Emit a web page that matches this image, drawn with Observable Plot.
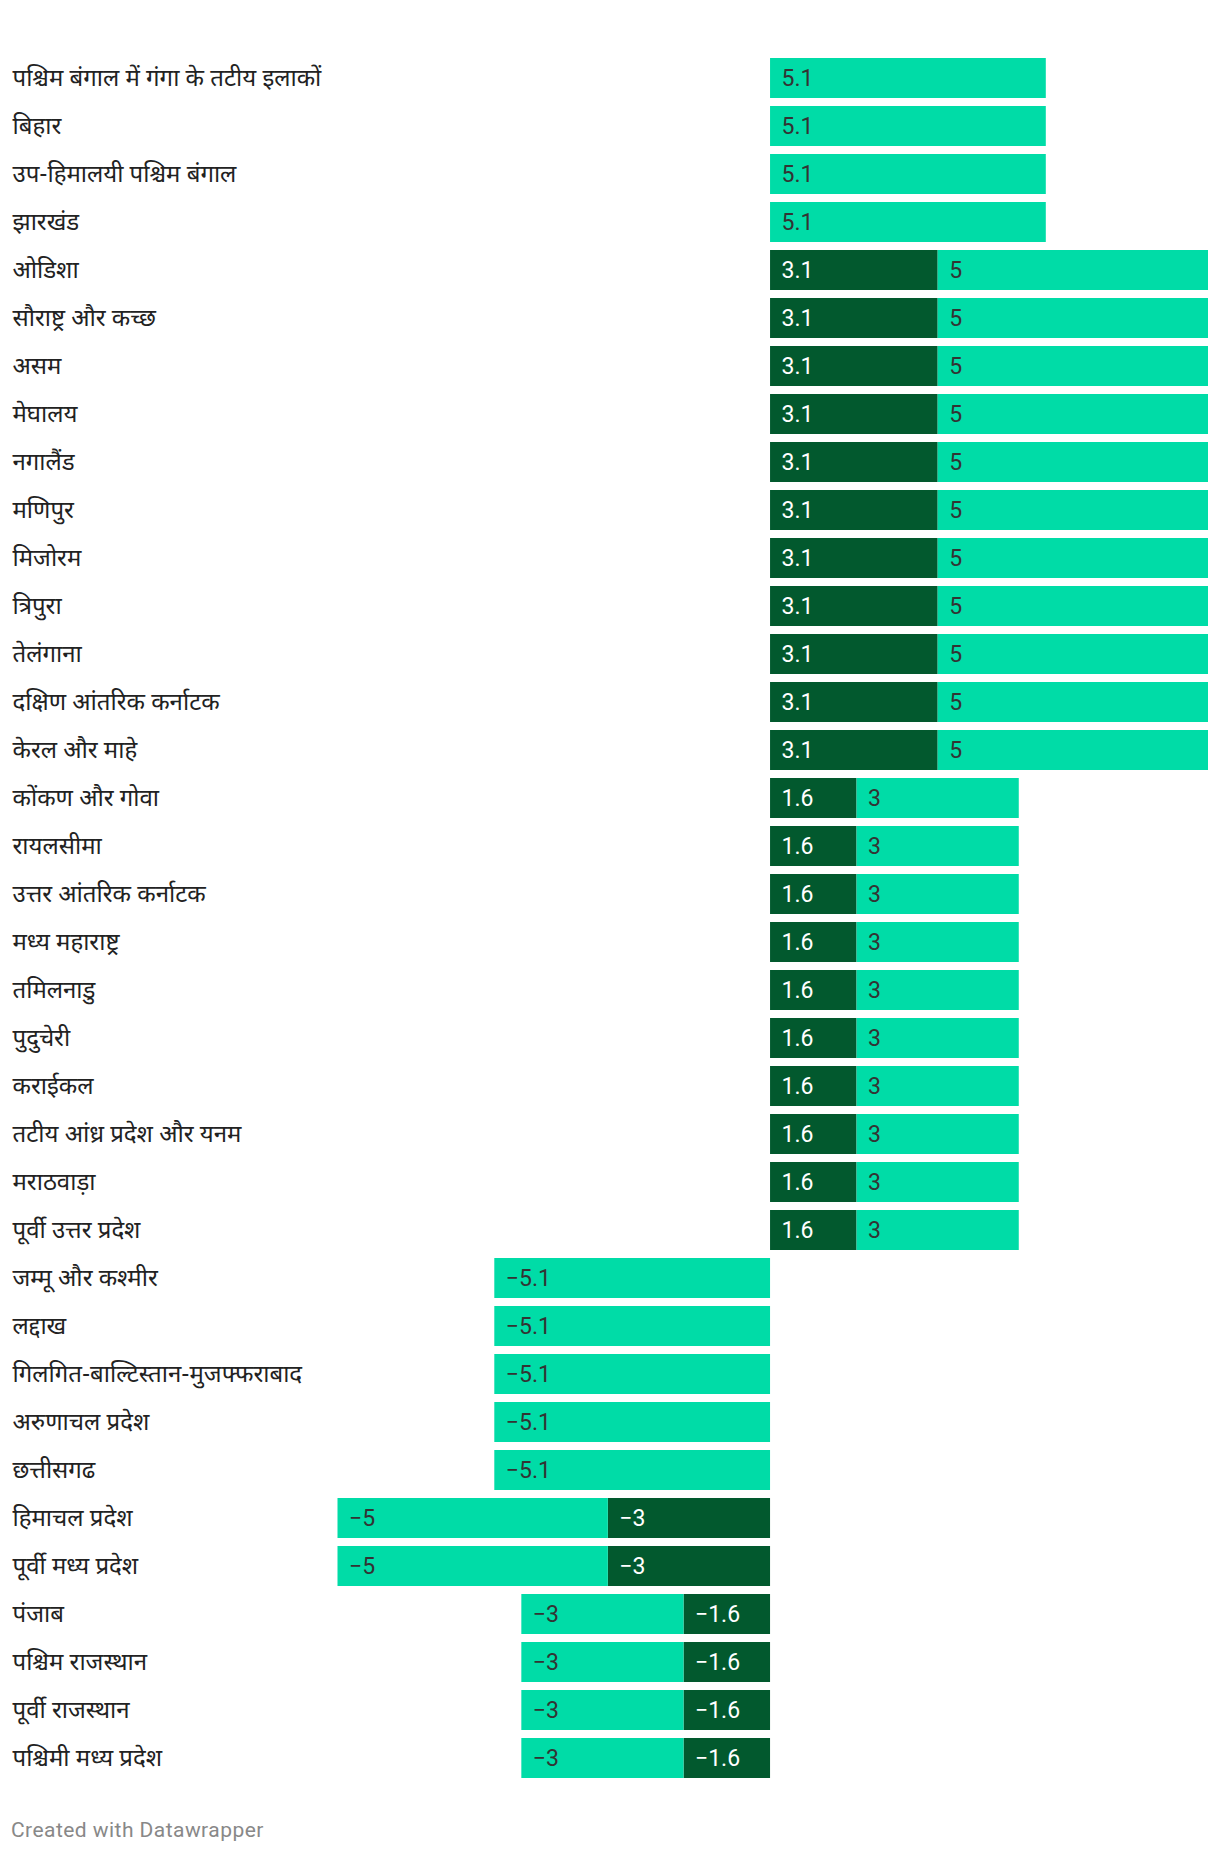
<!DOCTYPE html>
<html>
<head>
<meta charset="utf-8">
<script src="https://cdn.jsdelivr.net/npm/d3@7"></script>
<script src="https://cdn.jsdelivr.net/npm/@observablehq/plot@0.6"></script>
<style>
  body { margin: 0; background: #fff; font-family: Roboto, "Noto Sans", sans-serif; }
  #chart svg { display: block; }
  #footer { margin: 18px 0 0 11px; font-size: 21px; letter-spacing: 0.45px; line-height: 24px; color: #888; font-family: Roboto, sans-serif; }
</style>
</head>
<body>
<div id="chart"></div>
<div id="footer">Created with Datawrapper</div>
<script>
const regions = [
  "पश्चिम बंगाल में गंगा के तटीय इलाकों",
  "बिहार",
  "उप-हिमालयी पश्चिम बंगाल",
  "झारखंड",
  "ओडिशा",
  "सौराष्ट्र और कच्छ",
  "असम",
  "मेघालय",
  "नगालैंड",
  "मणिपुर",
  "मिजोरम",
  "त्रिपुरा",
  "तेलंगाना",
  "दक्षिण आंतरिक कर्नाटक",
  "केरल और माहे",
  "कोंकण और गोवा",
  "रायलसीमा",
  "उत्तर आंतरिक कर्नाटक",
  "मध्य महाराष्ट्र",
  "तमिलनाडु",
  "पुदुचेरी",
  "कराईकल",
  "तटीय आंध्र प्रदेश और यनम",
  "मराठवाड़ा",
  "पूर्वी उत्तर प्रदेश",
  "जम्मू और कश्मीर",
  "लद्दाख",
  "गिलगित-बाल्टिस्तान-मुजफ्फराबाद",
  "अरुणाचल प्रदेश",
  "छत्तीसगढ",
  "हिमाचल प्रदेश",
  "पूर्वी मध्य प्रदेश",
  "पंजाब",
  "पश्चिम राजस्थान",
  "पूर्वी राजस्थान",
  "पश्चिमी मध्य प्रदेश"
];

// inner (dark) segment, next to zero; null = none
const darkValues = [
  null, null, null, null,
  3.1, 3.1, 3.1, 3.1, 3.1, 3.1, 3.1, 3.1, 3.1, 3.1, 3.1,
  1.6, 1.6, 1.6, 1.6, 1.6, 1.6, 1.6, 1.6, 1.6, 1.6,
  null, null, null, null, null,
  -3, -3,
  -1.6, -1.6, -1.6, -1.6
];

// outer (light) segment
const lightValues = [
  5.1, 5.1, 5.1, 5.1,
  5, 5, 5, 5, 5, 5, 5, 5, 5, 5, 5,
  3, 3, 3, 3, 3, 3, 3, 3, 3, 3,
  -5.1, -5.1, -5.1, -5.1, -5.1,
  -5, -5,
  -3, -3, -3, -3
];

const seriesNames = ["dark", "light"];
const seriesColors = ["#02592e", "#00dca7"];
const textColors = ["#ffffff", "#333333"];

// build segments by stacking dark then light from zero
const segments = [];
regions.forEach((r, i) => {
  let base = 0;
  [darkValues[i], lightValues[i]].forEach((v, k) => {
    if (v == null) return;
    const a = base, b = base + v;
    segments.push({
      region: r,
      series: seriesNames[k],
      value: v,
      x1: Math.min(a, b),
      x2: Math.max(a, b),
      label: (v < 0 ? "\u2212" + Math.abs(v) : String(v))
    });
    base = b;
  });
});

const W = 1220;
const marginLeft = 337.5;
const chart = Plot.plot({
  width: W,
  height: 1800,
  marginLeft: marginLeft,
  marginRight: 12,
  marginTop: 54,
  marginBottom: 18,
  style: { fontFamily: "Roboto, 'Noto Sans', sans-serif", background: "#fff" },
  x: { domain: [-8, 8.1], axis: null },
  y: { domain: regions, axis: null, padding: 0 },
  color: { domain: seriesNames, range: seriesColors },
  marks: [
    Plot.barX(segments, {
      x1: "x1", x2: "x2", y: "region", fill: "series",
      insetTop: 4, insetBottom: 4
    }),
    Plot.text(segments, {
      x: "x1", y: "region", text: "label",
      textAnchor: "start", dx: 11,
      fontSize: 23,
      fill: d => textColors[seriesNames.indexOf(d.series)]
    }),
    Plot.text(regions, {
      y: d => d, text: d => d,
      frameAnchor: "left", textAnchor: "start",
      dx: -(marginLeft - 12),
      fontSize: 24, fill: "#222",
      fontFamily: "'Noto Sans Devanagari', 'Noto Sans', Roboto, sans-serif"
    })
  ]
});
document.getElementById("chart").appendChild(chart);
</script>
</body>
</html>
